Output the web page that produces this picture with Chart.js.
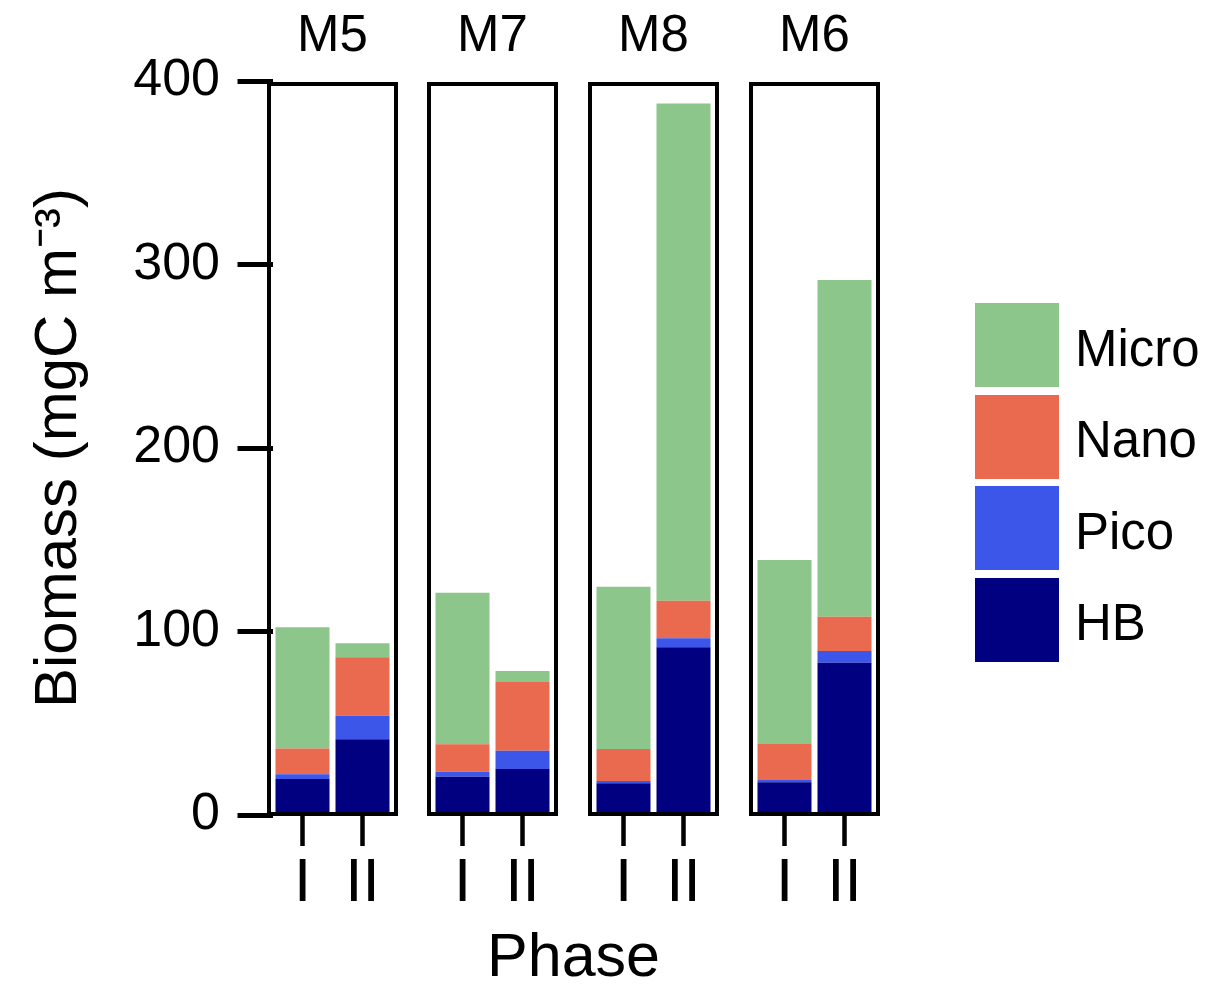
<!DOCTYPE html>
<html>
<head>
<meta charset="utf-8">
<script src="https://cdn.jsdelivr.net/npm/chart.js@4.4.1/dist/chart.umd.min.js"></script>
<style>
  body { margin: 0; background: #fff; }
  #wrap { position: relative; width: 1215px; height: 993px; overflow: hidden; font-family: 'Liberation Sans', Arial, sans-serif; color: #000; }
  .panel { position: absolute; top: 0; }
  #xtitle { position: absolute; left: 269px; width: 609px; top: 925px; text-align: center; font-size: 61px; line-height: 61px; }
  #legend { position: absolute; left: 975px; top: 303px; }
  .key { display: flex; align-items: center; height: 84px; margin-bottom: 7.5px; }
  .swatch { width: 84px; height: 84px; margin-right: 16px; }
  .key span { font-size: 51px; line-height: 51px; position: relative; top: 3px; }
</style>
</head>
<body>
<div id="wrap">
  <div id="xtitle">Phase</div>
  <div id="legend"></div>
</div>
<script>
// sites (facets) and phases (bars inside a facet)
const sites = ['M5', 'M7', 'M8', 'M6'];
const phases = ['I', 'II'];
const yTicks = [0, 100, 200, 300, 400];

// biomass per size class, one [I, II] pair per site, in sites order
const hb    = [[19.6, 41.3], [20.9, 25.1], [17.3, 91.4], [17.8, 83.0]];
const pico  = [[2.6, 12.8],  [2.7, 9.9],   [1.2, 4.9],   [1.3, 6.4]];
const nano  = [[14.1, 31.8], [14.9, 37.5], [17.5, 20.5], [19.6, 18.7]];
const micro = [[66.0, 7.7],  [82.6, 6.0],  [88.4, 271.0], [100.3, 183.5]];

// stacking order bottom -> top
const groups = [
  { label: 'HB',    values: hb,    color: '#000080' },
  { label: 'Pico',  values: pico,  color: '#3b56e8' },
  { label: 'Nano',  values: nano,  color: '#e96a4e' },
  { label: 'Micro', values: micro, color: '#8cc68a' },
];

Chart.defaults.font.family = "'Liberation Sans', Arial, sans-serif";
Chart.defaults.color = '#000';

const boxLefts = [269, 429, 590, 751];
const BOX_W = 127;
const INSET = 3.5;

const panelBox = {
  id: 'panelBox',
  afterDraw(chart) {
    const { ctx, chartArea: a } = chart;
    ctx.save();
    ctx.lineWidth = 4;
    ctx.strokeStyle = '#000';
    ctx.strokeRect(a.left - INSET, a.top + 3, a.width + 2 * INSET, a.height - 4);
    ctx.restore();
  }
};

function makePanel(i) {
  const first = i === 0;
  const left = first ? 0 : boxLefts[i] - 10;
  const width = boxLefts[i] + BOX_W + 10 - left;

  const holder = document.createElement('div');
  holder.className = 'panel';
  holder.style.left = left + 'px';
  const cv = document.createElement('canvas');
  cv.width = width; cv.height = 993;
  cv.style.width = width + 'px'; cv.style.height = '993px';
  holder.appendChild(cv);
  document.getElementById('wrap').appendChild(holder);

  new Chart(cv.getContext('2d'), {
    type: 'bar',
    data: {
      labels: phases,
      datasets: groups.map(g => ({
        label: g.label,
        data: g.values[i],
        backgroundColor: g.color,
        borderWidth: 0,
        barPercentage: 0.9,
        categoryPercentage: 1.0
      }))
    },
    options: {
      responsive: false,
      animation: false,
      devicePixelRatio: 1,
      layout: { padding: { left: first ? 0 : 10 + INSET, right: 10 + INSET, top: 0, bottom: 0 } },
      plugins: {
        legend: { display: false },
        tooltip: { enabled: false },
        title: {
          display: true, text: sites[i], fullSize: false,
          font: { size: 51, weight: 'normal', lineHeight: 1.2 },
          color: '#000', padding: { top: 6, bottom: 13.8 }
        }
      },
      scales: {
        x: {
          stacked: true,
          border: { display: false },
          grid: { offset: false, drawOnChartArea: false, tickLength: 31, tickWidth: 4.5, tickColor: '#000' },
          ticks: { font: { size: 62, lineHeight: 1 }, color: '#000', padding: 7 },
          afterFit: s => { s.height = 178; }
        },
        y: {
          stacked: true,
          display: first,
          min: 0, max: 400,
          border: { display: false },
          grid: { drawOnChartArea: false, tickLength: 35, tickWidth: 5, tickColor: '#000' },
          ticks: { font: { size: 52 }, color: '#000', padding: 17.5 },
          afterBuildTicks: s => { s.ticks = yTicks.map(v => ({ value: v })); },
          title: {
            display: true, text: 'Biomass (mgC m\u207B\u00B3)',
            font: { size: 60, lineHeight: 1 }, color: '#000',
            padding: { top: 29, bottom: 0 }
          },
          afterFit: s => { if (first) s.width = boxLefts[0] + INSET; }
        }
      }
    },
    plugins: [panelBox]
  });
}

sites.forEach((_, i) => makePanel(i));

// legend, top to bottom: Micro, Nano, Pico, HB
const legend = document.getElementById('legend');
groups.slice().reverse().forEach(g => {
  const row = document.createElement('div');
  row.className = 'key';
  row.innerHTML = `<div class="swatch" style="background:${g.color}"></div><span>${g.label}</span>`;
  legend.appendChild(row);
});
</script>
</body>
</html>
